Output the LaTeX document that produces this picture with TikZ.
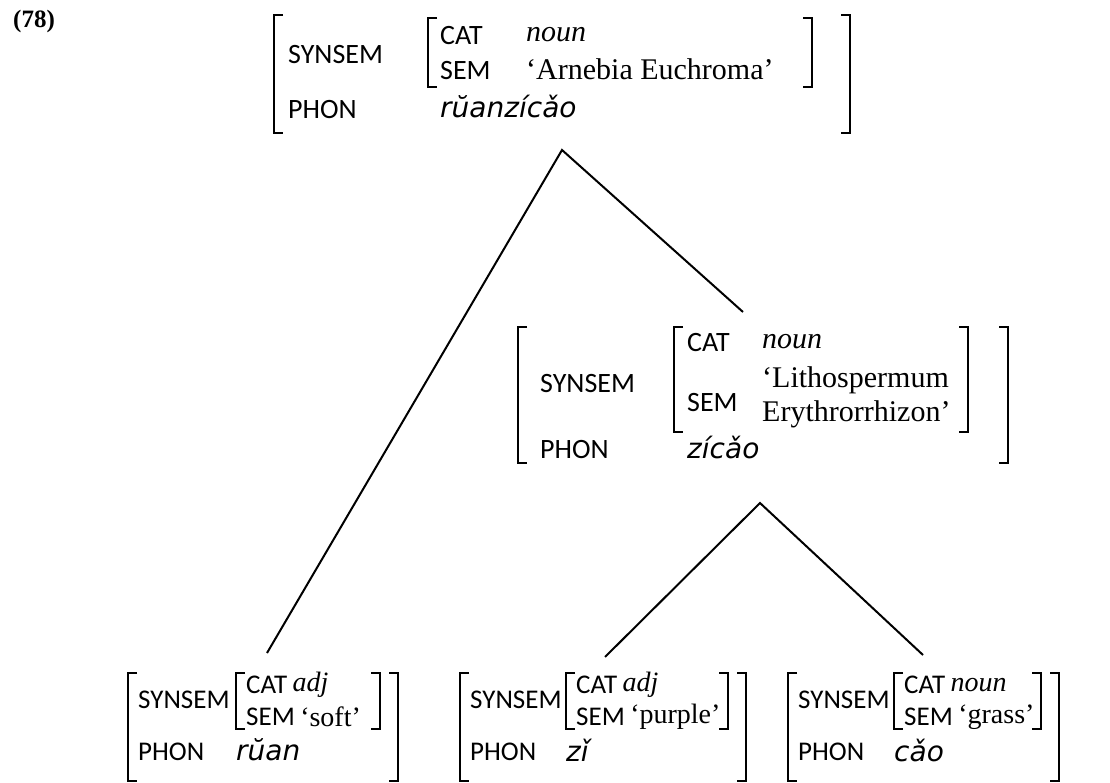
\documentclass[tikz,border=0pt]{standalone}
\usepackage{fontspec}
\setmainfont{Liberation Serif}
\newfontfamily\featfont{Carlito}
\newfontfamily\phonfont{DejaVu Sans Oblique}
\usetikzlibrary{positioning}

\tikzset{
  feat/.style={anchor=west, inner sep=0pt, font=\featfont\fontsize{28}{30}\selectfont},
  val/.style={anchor=west, inner sep=0pt, font=\fontsize{30}{32}\selectfont},
  bfeat/.style={anchor=west, inner sep=0pt, font=\featfont\fontsize{27}{29}\selectfont},
  bval/.style={anchor=west, inner sep=0pt, font=\fontsize{28}{30}\selectfont},
  phon/.style={anchor=west, inner sep=0pt, font=\phonfont\fontsize{28}{30}\selectfont},
  brk/.style={line width=1.8pt},
  branch/.style={line width=2pt},
}
% square brackets: x, top y, bottom y
\newcommand\lbrk[3]{\draw[brk] (#1,#2) ++(9,0) -- ++(-9,0) -- (#1,#3) -- ++(9,0);}
\newcommand\rbrk[3]{\draw[brk] (#1,#2) ++(-9,0) -- ++(9,0) -- (#1,#3) -- ++(-9,0);}

\begin{document}
\begin{tikzpicture}[x=1pt,y=-1pt]
  \useasboundingbox (0,0) rectangle (1110,783);

  \node[anchor=west, inner sep=0pt, font=\bfseries\fontsize{25}{27}\selectfont] (exnum) at (13,21) {(78)};

  % mother: ruanzicao
  \lbrk{274}{15}{133}
  \node[feat] (t-synsem) at (288,55) {SYNSEM};
  \lbrk{428}{18}{87}
  \node[feat] (t-cat) at (440,36) {CAT};
  \node[val] (t-catv) at (526,35) {\itshape noun};
  \node[feat] (t-sem) at (440,71) {SEM};
  \node[val] (t-semv) at (526,69) {‘Arnebia Euchroma’};
  \rbrk{812}{18}{87}
  \rbrk{850}{15}{133}
  \node[feat] (t-phon) at (288,110) {PHON};
  \node[phon] (t-phonv) at (440,107) {rŭanzícǎo};

  % zicao
  \lbrk{518}{327}{463}
  \node[feat] (m-synsem) at (540,384) {SYNSEM};
  \lbrk{674}{327}{432}
  \node[feat] (m-cat) at (687,343) {CAT};
  \node[val] (m-catv) at (762,342) {\itshape noun};
  \node[val] (m-semv1) at (762,380) {‘Lithospermum};
  \node[feat] (m-sem) at (687,403) {SEM};
  \node[val] (m-semv2) at (762,414) {Erythrorrhizon’};
  \rbrk{968}{327}{432}
  \rbrk{1008}{327}{463}
  \node[feat] (m-phon) at (540,450) {PHON};
  \node[phon] (m-phonv) at (687,447) {zícǎo};

  % ruan
  \lbrk{128}{673}{781}
  \node[bfeat] (r-synsem) at (138,700) {SYNSEM};
  \lbrk{236}{673}{729}
  \node[bfeat] (r-cat) at (246,685) {CAT};
  \node[bval, right=5pt of r-cat] (r-catv) {\itshape adj};
  \node[bfeat] (r-sem) at (246,717) {SEM};
  \node[bval, right=5pt of r-sem] (r-semv) {‘soft’};
  \rbrk{380}{673}{729}
  \rbrk{398}{673}{781}
  \node[bfeat] (r-phon) at (138,752) {PHON};
  \node[phon] (r-phonv) at (236,750) {rŭan};

  % zi
  \lbrk{460}{673}{781}
  \node[bfeat] (z-synsem) at (470,700) {SYNSEM};
  \lbrk{566}{673}{729}
  \node[bfeat] (z-cat) at (576,685) {CAT};
  \node[bval, right=5pt of z-cat] (z-catv) {\itshape adj};
  \node[bfeat] (z-sem) at (576,717) {SEM};
  \node[bval, right=5pt of z-sem] (z-semv) {‘purple’};
  \rbrk{728}{673}{729}
  \rbrk{746}{673}{781}
  \node[bfeat] (z-phon) at (470,752) {PHON};
  \node[phon] (z-phonv) at (566,750) {zǐ};

  % cao
  \lbrk{788}{673}{781}
  \node[bfeat] (c-synsem) at (798,700) {SYNSEM};
  \lbrk{894}{673}{729}
  \node[bfeat] (c-cat) at (904,685) {CAT};
  \node[bval, right=5pt of c-cat] (c-catv) {\itshape noun};
  \node[bfeat] (c-sem) at (904,717) {SEM};
  \node[bval, right=5pt of c-sem] (c-semv) {‘grass’};
  \rbrk{1041}{673}{729}
  \rbrk{1059}{673}{781}
  \node[bfeat] (c-phon) at (798,752) {PHON};
  \node[phon] (c-phonv) at (894,750) {cǎo};

  % branches
  \coordinate (t-foot) at (562,150);
  \coordinate (m-head) at (743,312);
  \coordinate (r-head) at (267,653);
  \coordinate (m-foot) at (760,503);
  \coordinate (z-head) at (605,657);
  \coordinate (c-head) at (923,655);
  \draw[branch] (r-head) -- (t-foot) -- (m-head);
  \draw[branch] (z-head) -- (m-foot) -- (c-head);
\end{tikzpicture}
\end{document}
